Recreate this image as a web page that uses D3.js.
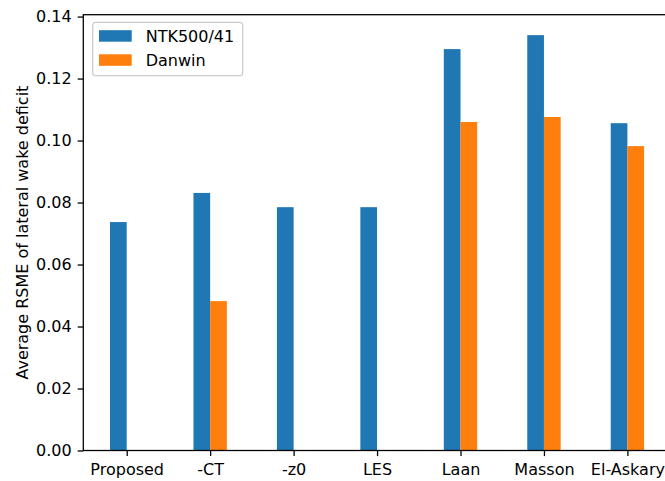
<!DOCTYPE html>
<html>
<head>
<meta charset="utf-8">
<script src="https://cdn.jsdelivr.net/npm/d3@7"></script>
<style>
  body { margin: 0; background: #fff; }
  svg { display: block; font-family: "DejaVu Sans", sans-serif; }
</style>
</head>
<body>
<svg id="chart" width="665" height="481"></svg>
<script>
// Model names along the x axis
const categories = ["Proposed", "-CT", "-z0", "LES", "Laan", "Masson", "El-Askary"];
// Average RMSE per model for each test case (null = no bar)
const ntkValues = [0.0737, 0.0831, 0.0785, 0.0785, 0.1295, 0.1340, 0.1056];
const danwinValues = [null, 0.0482, null, null, 0.1060, 0.1076, 0.0982];
const seriesNames = ["NTK500/41", "Danwin"];
const yTicks = [0.00, 0.02, 0.04, 0.06, 0.08, 0.10, 0.12, 0.14];

(function () {
  const colors = ["#1f77b4", "#ff7f0e"];
  const barW = 0.2;

  const svg = d3.select("#chart");
  const plotLeft = 83.3, plotRight = 670.8, plotTop = 14.7, plotBottom = 450.5;

  const x = d3.scaleLinear().domain([-0.52, 6.52]).range([plotLeft, plotRight]);
  const y = d3.scaleLinear().domain([0, 0.1406]).range([plotBottom, plotTop]);

  const series = [ntkValues, danwinValues];
  series.forEach((vals, s) => {
    svg.append("g").selectAll("rect")
      .data(vals.map((v, i) => ({ v, i })).filter(d => d.v != null))
      .join("rect")
      .attr("x", d => x(d.i - barW + s * barW))
      .attr("width", d => x(barW) - x(0))
      .attr("y", d => y(d.v))
      .attr("height", d => y(0) - y(d.v))
      .attr("fill", colors[s]);
  });

  // Axes
  const fs = "16px";
  const xAxis = d3.axisBottom(x)
    .tickValues(d3.range(categories.length))
    .tickFormat(i => categories[i])
    .tickSize(5.6).tickPadding(7.5);
  const gx = svg.append("g").attr("transform", `translate(0,${plotBottom})`).call(xAxis);

  const yAxis = d3.axisLeft(y)
    .tickValues(yTicks)
    .tickFormat(d3.format(".2f"))
    .tickSize(5.6).tickPadding(6);
  const gy = svg.append("g").attr("transform", `translate(${plotLeft},0)`).call(yAxis);

  [gx, gy].forEach(g => {
    g.select(".domain").remove();
    g.selectAll(".tick line").attr("stroke", "#000").attr("stroke-width", 1.28);
    g.selectAll(".tick text").attr("fill", "#000").style("font-size", fs)
      .style("font-family", "DejaVu Sans, sans-serif");
  });

  // Spines
  svg.append("rect")
    .attr("x", plotLeft).attr("y", plotTop)
    .attr("width", plotRight - plotLeft).attr("height", plotBottom - plotTop)
    .attr("fill", "none").attr("stroke", "#000").attr("stroke-width", 1.28);

  // Y axis label
  svg.append("text")
    .attr("transform", `translate(27.5,${(plotTop + plotBottom) / 2}) rotate(-90)`)
    .attr("text-anchor", "middle")
    .style("font-size", fs)
    .text("Average RSME of lateral wake deficit");

  // Legend
  const lg = svg.append("g");
  lg.append("rect")
    .attr("x", 92.7).attr("y", 22.3).attr("width", 150).attr("height", 53.4)
    .attr("rx", 3.2).attr("fill", "#fff").attr("fill-opacity", 0.8)
    .attr("stroke", "#cccccc").attr("stroke-width", 1.28);
  seriesNames.forEach((name, i) => {
    const cy = 35.9 + i * 24.1;
    lg.append("rect").attr("x", 99).attr("y", cy - 5.7)
      .attr("width", 32.7).attr("height", 11.5).attr("fill", colors[i]);
    lg.append("text").attr("x", 145.7).attr("y", cy + 5.8)
      .style("font-size", fs).text(name);
  });
})();
</script>
</body>
</html>
